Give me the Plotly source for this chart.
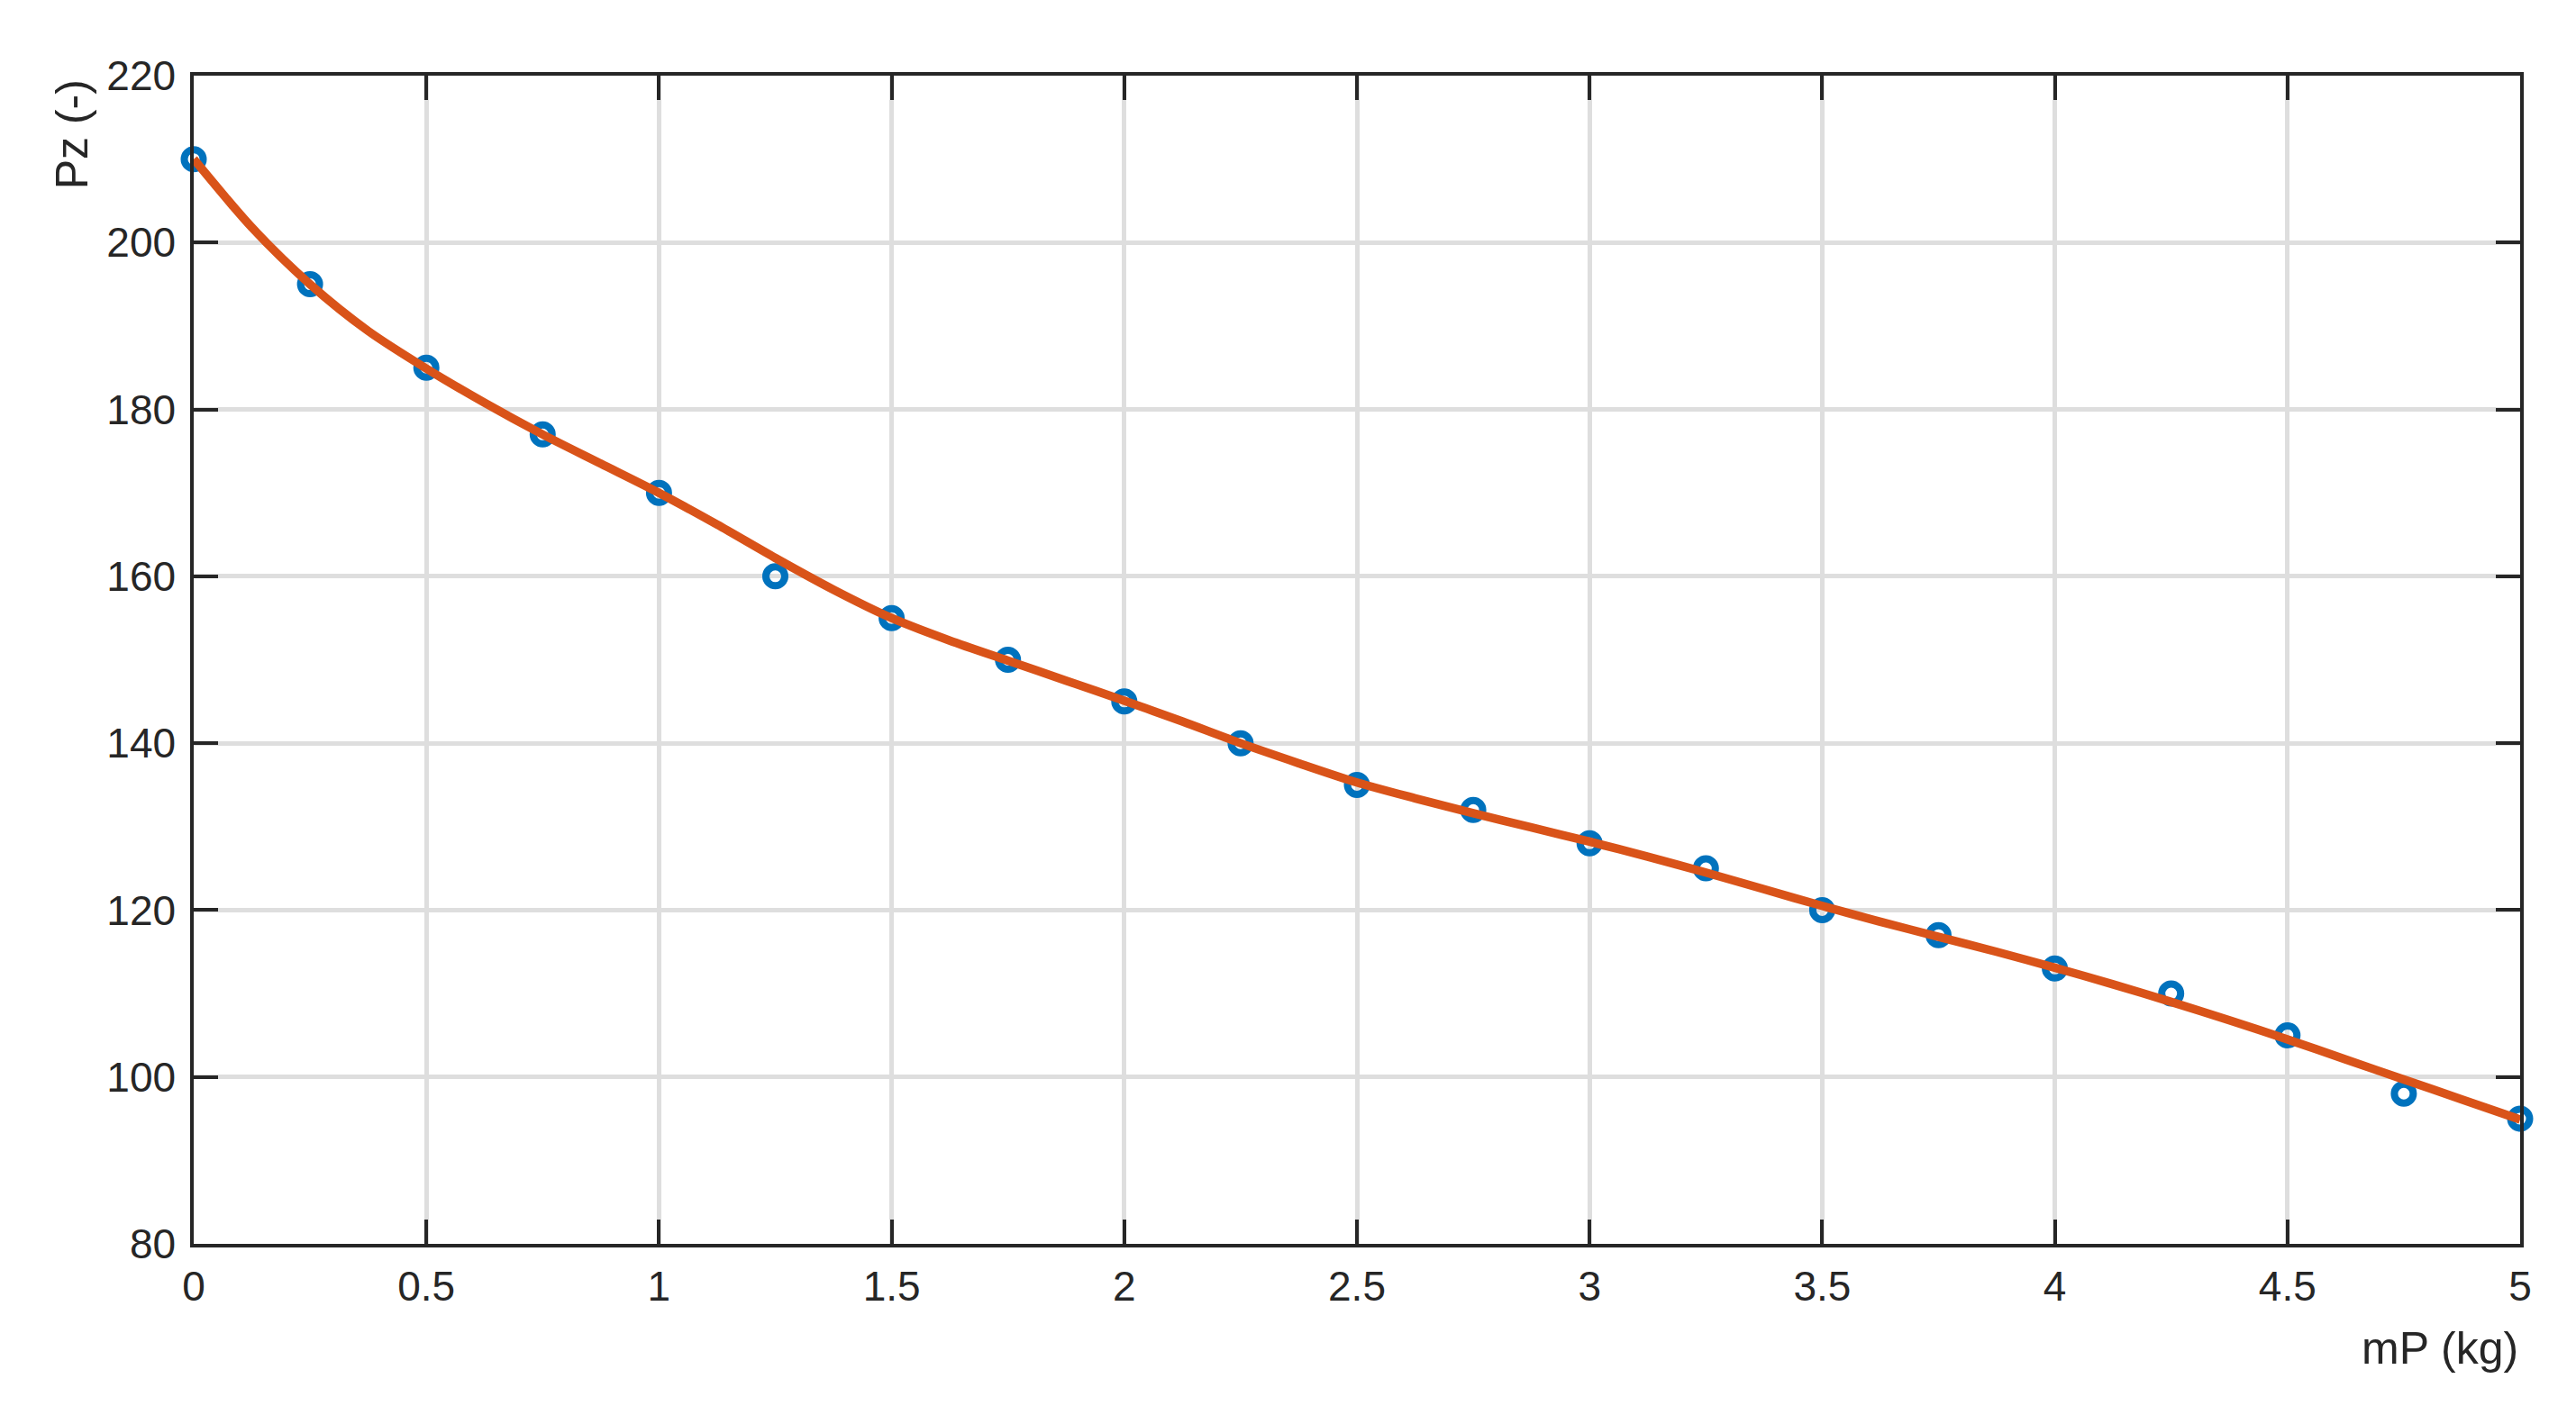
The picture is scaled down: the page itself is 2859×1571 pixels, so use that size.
import plotly.graph_objects as go

# Measured points
mass_kg = [0, 0.25, 0.5, 0.75, 1.0, 1.25, 1.5, 1.75, 2.0, 2.25, 2.5,
           2.75, 3.0, 3.25, 3.5, 3.75, 4.0, 4.25, 4.5, 4.75, 5.0]
pz_meas = [210, 195, 185, 177, 170, 160, 155, 150, 145, 140, 135,
           132, 128, 125, 120, 117, 113, 110, 105, 98, 95]

# Fitted curve
fit_x = [0, 0.125, 0.25, 0.375, 0.5, 0.625, 0.75, 0.875, 1.0, 1.125, 1.25,
         1.375, 1.5, 1.625, 1.75, 1.875, 2.0, 2.125, 2.25, 2.375, 2.5,
         2.625, 2.75, 2.875, 3.0, 3.125, 3.25, 3.375, 3.5, 3.625, 3.75,
         3.875, 4.0, 4.125, 4.25, 4.375, 4.5, 4.625, 4.75, 4.875, 5.0]
fit_y = [210.0, 201.8, 195.0, 189.4, 184.9, 180.8, 177.0, 173.5, 170.0, 166.2, 162.2,
         158.4, 155.0, 152.3, 149.9, 147.5, 145.1, 142.6, 140.0, 137.6, 135.3,
         133.4, 131.6, 129.9, 128.2, 126.4, 124.5, 122.5, 120.5, 118.6, 116.8,
         115.0, 113.1, 111.1, 109.0, 106.8, 104.5, 102.1, 99.7, 97.3, 94.9]

x_ticks = [0, 0.5, 1, 1.5, 2, 2.5, 3, 3.5, 4, 4.5, 5]
x_tick_text = ["0", "0.5", "1", "1.5", "2", "2.5", "3", "3.5", "4", "4.5", "5"]
y_ticks = [80, 100, 120, 140, 160, 180, 200, 220]

FONT = "Liberation Sans, Arial, Helvetica, sans-serif"
DARK = "#262626"
GRID = "#dedede"

fig = go.Figure()
fig.add_trace(go.Scatter(
    x=mass_kg, y=pz_meas, mode="markers",
    marker=dict(symbol="circle", size=21, color="rgba(0,0,0,0)",
                line=dict(width=8, color="#0072BD")),
    showlegend=False, cliponaxis=False))
fig.add_trace(go.Scatter(
    x=fit_x, y=fit_y, mode="lines", line_shape="spline",
    line=dict(color="#D95319", width=9.5, smoothing=0.8),
    showlegend=False, cliponaxis=False))

axis_common = dict(
    showline=True, linecolor=DARK, linewidth=3.5, mirror="ticks",
    ticks="inside", ticklen=27, tickwidth=3.5, tickcolor=DARK,
    showgrid=True, gridcolor=GRID, gridwidth=4.5, zeroline=False,
    tickfont=dict(family=FONT, size=46, color=DARK),
)

fig.update_xaxes(range=[0, 5], tickmode="array", tickvals=x_ticks,
                 ticktext=x_tick_text, ticklabelstandoff=4, **axis_common)
fig.update_yaxes(range=[80, 220], tickmode="array", tickvals=y_ticks,
                 ticklabelstandoff=7, **axis_common)

fig.add_annotation(text="mP (kg)", xref="paper", yref="paper",
                   x=1.0, xanchor="right", y=-0.0894, yanchor="middle",
                   showarrow=False, font=dict(family=FONT, size=50, color=DARK))
fig.add_annotation(text="Pz (-)", xref="paper", yref="paper", textangle=-90,
                   x=-0.0525, xanchor="center", y=0.950, yanchor="middle",
                   showarrow=False, font=dict(family=FONT, size=50, color=DARK))

# The page body has an 8px default margin; size the figure so the plot area
# lands on the same pixels as the reference.
fig.update_layout(
    width=2851, height=1563,
    margin=dict(l=207, r=62, t=76, b=190),
    paper_bgcolor="white", plot_bgcolor="white",
    font=dict(family=FONT, color=DARK),
)

fig.write_html("out.html")
